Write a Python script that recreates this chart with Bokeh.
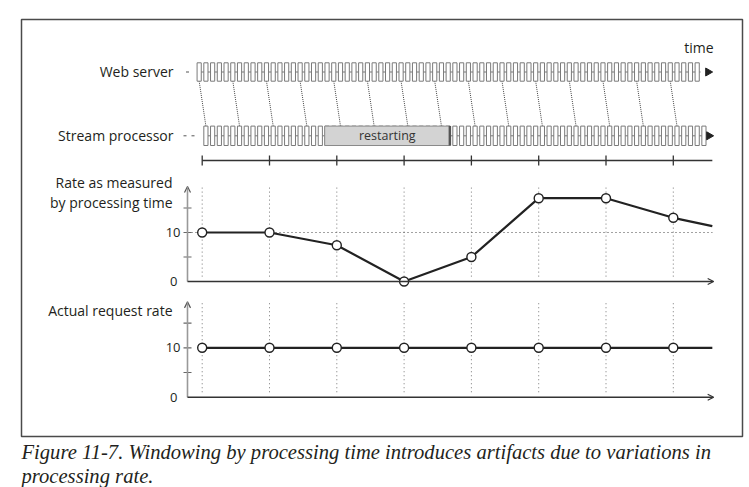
import numpy as np
from bokeh.plotting import figure
from bokeh.models import Range1d, Arrow, OpenHead
from bokeh.core.properties import value
from bokeh.embed import file_html
from bokeh.resources import INLINE

# ---------------- data ----------------
window_ends = [0, 1, 2, 3, 4, 5, 6, 7]            # window boundaries (time units)
measured_rate = [10, 10, 7.4, 0, 5, 17, 17, 13]   # rate by processing time
actual_rate = [10, 10, 10, 10, 10, 10, 10, 10]    # actual request rate
line_end_t = 7.58                                 # lines run on to the arrow
measured_rate_end = 11.3
actual_rate_end = 10
y_minor_ticks = [5, 10, 15]
y_tick_values = [0, 10]
y_tick_labels = ["0", "10"]
events_per_window = 10
n_events = 75
first_event_t = -0.045
connector_every = 5
restart_start, restart_end = 1.82, 3.68
catchup_first, catchup_pitch = 3.72, 0.0594
caption_lines = [
    "Figure 11-7. Windowing by processing time introduces artifacts due to variations in",
    "processing rate.",
]

# ---------------- layout constants ----------------
W, H = 749, 487
T0_PX, PX_PER_T = 201.7, 67.3


def tx(px):
    return (px - T0_PX) / PX_PER_T


# event times
slot = 1.0 / events_per_window
web_t = first_event_t + np.arange(n_events) * slot
proc_t, compressed = [], []
caught_up = False
first_restarted = None
for i in range(n_events):
    normal = web_t[i] + slot
    if normal < restart_start:
        proc_t.append(normal); compressed.append(False)
        continue
    if first_restarted is None:
        first_restarted = i
    c = catchup_first + (i - first_restarted) * catchup_pitch
    if not caught_up and c < normal:
        proc_t.append(c); compressed.append(True)
    else:
        caught_up = True
        proc_t.append(normal); compressed.append(False)
proc_t = np.array(proc_t)
compressed = np.array(compressed)

p = figure(width=W, height=H, output_backend="svg", toolbar_location=None,
           x_range=Range1d(tx(0), tx(W)), y_range=Range1d(H, 0),
           x_axis_location=None, y_axis_location=None, min_border=0)
p.grid.visible = False
p.outline_line_color = None
p.background_fill_color = "white"
p.border_fill_color = "white"
p.extra_y_ranges = {
    "r1": Range1d((281 - H) / 4.9, 281 / 4.9),
    "r2": Range1d((396.7 - H) / 4.94, 396.7 / 4.94),
}

TXT = "#231f20"
FONT = value("Open Sans")

# frame
p.quad(left=[tx(21)], right=[tx(742)], top=[19], bottom=[436],
       fill_color=None, line_color="#4a4a4a", line_width=1.5)

# ---------------- event rows ----------------
WEB_Y, WEB_HH = 71.5, 9.2
ST_Y, ST_HH = 135.3, 9.7
hw_norm, hw_comp = 0.031, 0.0195

# middle lines and lead-in dashes
p.segment(x0=[web_t[0]], x1=[web_t[-1] + 0.05], y0=[WEB_Y], y1=[WEB_Y], line_color="#777", line_width=1)
p.segment(x0=[proc_t[0]], x1=[proc_t[-1] + 0.03], y0=[ST_Y], y1=[ST_Y], line_color="#777", line_width=1)
p.segment(x0=[tx(185.5)], x1=[tx(188.5)], y0=[WEB_Y], y1=[WEB_Y], line_color="#555", line_width=1)
p.segment(x0=[tx(183), tx(191)], x1=[tx(186), tx(194)], y0=[ST_Y] * 2, y1=[ST_Y] * 2,
          line_color="#555", line_width=1)

# connectors
idx = np.arange(0, n_events, connector_every)
p.segment(x0=web_t[idx], y0=[WEB_Y + WEB_HH] * len(idx), x1=proc_t[idx], y1=[ST_Y - ST_HH] * len(idx),
          line_color="#333", line_width=0.9, line_dash="1 1")

# web events
p.quad(left=web_t - hw_norm, right=web_t + hw_norm, top=[WEB_Y - WEB_HH] * n_events,
       bottom=[WEB_Y + WEB_HH] * n_events, fill_color="white", line_color="#7a7a7a", line_width=1)
# stream events
hw = np.where(compressed, hw_comp, hw_norm)
p.quad(left=proc_t - hw, right=proc_t + hw, top=[ST_Y - ST_HH] * n_events,
       bottom=[ST_Y + ST_HH] * n_events, fill_color="white", line_color="#7a7a7a", line_width=1)

# restart box
p.quad(left=[restart_start], right=[restart_end], top=[ST_Y - ST_HH], bottom=[ST_Y + ST_HH],
       fill_color="#d3d3d3", line_color="#8a8a8a", line_width=1)
p.segment(x0=[restart_end], x1=[restart_end], y0=[ST_Y - ST_HH], y1=[ST_Y + ST_HH],
          line_color="#555", line_width=2.5)
p.text(x=[(restart_start + restart_end) / 2], y=[ST_Y], text=["restarting"], text_font=FONT,
       text_font_size="12.5px", text_align="center", text_baseline="middle", text_color="#333")

# row arrows
p.scatter(x=[tx(707.5), tx(708.5)], y=[WEB_Y, ST_Y], marker="triangle", size=8,
          angle=-np.pi / 2, fill_color="#222", line_color="#222")

# window tick row
TR_Y = 160
p.segment(x0=[window_ends[0]], x1=[line_end_t], y0=[TR_Y], y1=[TR_Y], line_color="#333", line_width=1.3)
p.segment(x0=window_ends, x1=window_ends, y0=[TR_Y - 5] * 8, y1=[TR_Y + 5] * 8,
          line_color="#333", line_width=1.3)

# ---------------- rate charts ----------------
YAX_T = tx(187)


def rate_chart(rng, rates, end_rate, top, dotted_ten):
    # vertical dotted guides
    p.segment(x0=window_ends, x1=window_ends, y0=[1] * 8, y1=[top] * 8, y_range_name=rng,
              line_color="#777", line_width=1, line_dash="1 3")
    if dotted_ten:
        p.segment(x0=[tx(191)], x1=[line_end_t], y0=[10], y1=[10], y_range_name=rng,
                  line_color="#444", line_width=1, line_dash="1 3")
    # y axis
    p.add_layout(Arrow(x_start=YAX_T, y_start=0, x_end=YAX_T, y_end=top, y_range_name=rng,
                       line_color="#999", line_width=1.6,
                       end=OpenHead(size=6, line_color="#555", line_width=1.2)))
    p.segment(x0=[tx(183)] * 3, x1=[tx(191)] * 3, y0=y_minor_ticks, y1=y_minor_ticks,
              y_range_name=rng, line_color="#666", line_width=1.2)
    # x axis
    p.add_layout(Arrow(x_start=YAX_T, y_start=0, x_end=line_end_t + 0.02, y_end=0, y_range_name=rng,
                       line_color="#333", line_width=1.4,
                       end=OpenHead(size=6, line_color="#333", line_width=1.2)))
    # tick labels
    p.text(x=[tx(177), tx(180)], y=y_tick_values, text=y_tick_labels, y_range_name=rng,
           text_font=FONT, text_font_size="13px", text_align="right", text_baseline="middle",
           text_color=TXT)
    # data line
    p.line(x=window_ends + [line_end_t], y=list(rates) + [end_rate], y_range_name=rng,
           line_color="#222", line_width=2.2)
    p.scatter(x=window_ends, y=rates, y_range_name=rng, marker="circle", size=9,
              fill_color="white", line_color="#222", line_width=1.4)


rate_chart("r1", measured_rate, measured_rate_end, 19.4, True)
rate_chart("r2", actual_rate, actual_rate_end, 19.3, False)

# ---------------- labels ----------------
p.text(x=[tx(173), tx(173), tx(172), tx(172), tx(172)],
       y=[71, 135, 181.5, 201.5, 310],
       text=["Web server", "Stream processor", "Rate as measured", "by processing time",
             "Actual request rate"],
       text_font=FONT, text_font_size="14px", text_align="right", text_baseline="middle",
       text_color=TXT)
p.text(x=[tx(713)], y=[47], text=["time"], text_font=FONT, text_font_size="14px",
       text_align="right", text_baseline="middle", text_color=TXT)

# caption
p.text(x=[tx(21), tx(21)], y=[451, 475], text=caption_lines,
       text_font=value("Liberation Serif"), text_font_style="italic", text_font_size="20.6px",
       text_align="left", text_baseline="middle", text_color="#231f20")

open("out.html", "w").write(file_html(p, INLINE))
